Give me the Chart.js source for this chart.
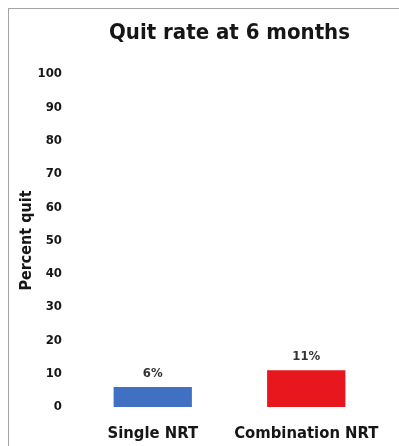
<!DOCTYPE html>
<html>
<head>
<meta charset="utf-8">
<script src="https://cdn.jsdelivr.net/npm/chart.js@4"></script>
<style>
  html, body { margin: 0; padding: 0; background: #fff; }
  #wrap { position: relative; width: 399px; height: 446px; overflow: hidden; }
  #frame {
    position: absolute; left: 8px; top: 8px; right: -2px; bottom: -2px;
    border-left: 1px solid #a4a4a4; border-top: 1px solid #a4a4a4;
  }
  #chart { position: absolute; left: 0; top: 0; }
</style>
</head>
<body>
<div id="wrap">
  <div id="frame"></div>
  <canvas id="chart" width="399" height="446"></canvas>
</div>
<script>
// ---- data ----
const categories = ["Single NRT", "Combination NRT"];
const quitRates = [6, 11];
const barColors = ["#4170c2", "#e8161d"];
const yTicks = [0, 10, 20, 30, 40, 50, 60, 70, 80, 90, 100];

const FONT = "'DejaVu Sans Condensed', 'DejaVu Sans', sans-serif";

// title centred over the plot area, not the whole canvas
const titlePlugin = {
  id: "areaTitle",
  afterDraw(chart){
    const { ctx, chartArea } = chart;
    ctx.save();
    ctx.font = "bold 22px " + FONT;
    ctx.fillStyle = "#161616";
    ctx.textAlign = "center";
    ctx.textBaseline = "middle";
    ctx.fillText("Quit rate at 6 months", (chartArea.left + chartArea.right) / 2, 33);
    ctx.restore();
  }
};

// percentage labels above each bar
const valueLabels = {
  id: "valueLabels",
  afterDatasetsDraw(chart){
    const { ctx } = chart;
    const meta = chart.getDatasetMeta(0);
    ctx.save();
    ctx.font = "bold 13px " + FONT;
    ctx.fillStyle = "#333";
    ctx.textAlign = "center";
    ctx.textBaseline = "bottom";
    meta.data.forEach((bar, i) => {
      ctx.fillText(quitRates[i] + "%", bar.x, bar.y - 7);
    });
    ctx.restore();
  }
};

new Chart(document.getElementById("chart"), {
  type: "bar",
  data: {
    labels: categories,
    datasets: [{
      data: quitRates,
      backgroundColor: barColors,
      borderWidth: 0,
      barPercentage: 0.51,
      categoryPercentage: 1
    }]
  },
  options: {
    responsive: false,
    animation: false,
    layout: { padding: { left: 17, right: 16, top: 74, bottom: 0 } },
    plugins: {
      legend: { display: false },
      tooltip: { enabled: false },
      title: { display: false }
    },
    scales: {
      x: {
        grid: { display: false },
        border: { display: false },
        afterFit: scale => { scale.height = 39; },
        ticks: { color: "#161616", font: { family: FONT, size: 16.5, weight: "bold" }, padding: 9 }
      },
      y: {
        min: 0, max: 100,
        grid: { display: false },
        border: { display: false },
        afterBuildTicks: scale => { scale.ticks = yTicks.map(v => ({ value: v })); },
        afterFit: scale => { scale.width = 59; },
        ticks: { color: "#161616", font: { family: FONT, size: 13, weight: "bold" }, padding: 6 },
        title: {
          display: true,
          text: "Percent quit",
          color: "#161616",
          font: { family: FONT, size: 16, weight: "bold" },
          padding: 0
        }
      }
    }
  },
  plugins: [titlePlugin, valueLabels]
});
</script>
</body>
</html>
